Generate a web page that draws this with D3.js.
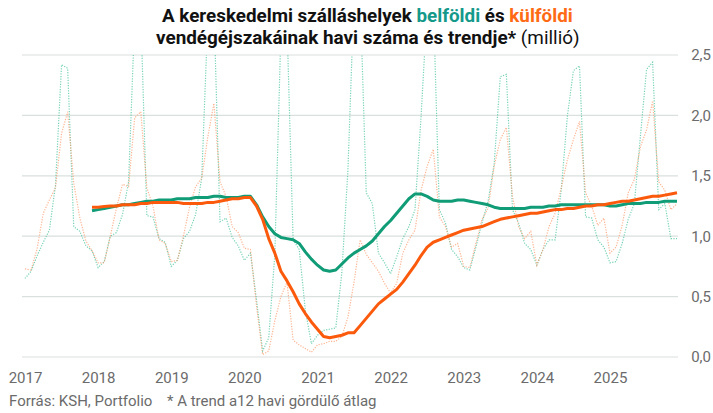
<!DOCTYPE html>
<html><head><meta charset="utf-8">
<script src="https://cdn.jsdelivr.net/npm/d3@7"></script>
<style>
body{margin:0;background:#fff;}
svg{display:block;font-family:Roboto,"Noto Sans",sans-serif;}
</style>
</head><body>
<svg id="chart" width="713" height="413"></svg>
<script>
// ---- data (million guest nights), monthly from Jan 2017 ----
const yearLabels = ["2017","2018","2019","2020","2021","2022","2023","2024","2025"];
const domestic = [
 0.65,0.71,0.84,0.95,1.05,1.42,2.42,2.39,1.08,1.04,0.92,0.88,
 0.74,0.79,1.00,1.03,1.18,1.45,2.80,2.85,1.17,1.16,0.98,0.95,
 0.75,0.80,0.98,1.04,1.18,1.48,2.80,2.90,1.12,1.15,0.99,0.92,
 0.80,0.86,0.47,0.05,0.16,0.85,2.70,2.75,0.97,0.89,0.39,0.11,
 0.18,0.22,0.23,0.24,0.70,1.55,3.00,3.00,1.36,1.27,0.86,0.78,
 0.69,0.83,0.98,1.08,1.22,1.99,2.90,2.95,1.22,1.11,0.89,0.83,
 0.74,0.72,0.91,1.11,1.29,1.60,2.32,2.34,1.22,1.11,0.94,0.89,
 0.76,0.89,0.97,0.97,1.38,1.99,2.37,2.41,1.16,1.15,0.97,0.91,
 0.78,0.79,0.94,1.14,1.27,1.83,2.38,2.44,1.22,1.27,0.98,0.98];
const foreign = [
 0.73,0.72,0.90,1.19,1.30,1.40,1.85,2.03,1.44,1.15,0.96,0.88,
 0.78,0.78,1.00,1.23,1.43,1.41,1.98,2.03,1.40,1.25,0.97,0.94,
 0.79,0.80,1.00,1.24,1.41,1.48,1.82,2.10,1.45,1.33,1.08,1.03,
 0.90,0.89,0.42,0.02,0.05,0.30,0.50,0.62,0.14,0.10,0.07,0.04,
 0.10,0.11,0.13,0.13,0.17,0.33,0.62,0.97,0.85,0.78,0.71,0.61,
 0.53,0.61,0.86,0.97,1.05,1.38,1.58,1.72,1.16,1.08,0.91,0.94,
 0.75,0.74,0.94,1.14,1.23,1.58,1.80,1.90,1.33,1.08,0.98,1.04,
 0.76,0.89,1.08,1.19,1.40,1.63,1.80,1.95,1.36,1.25,1.09,1.15,
 0.86,0.91,1.09,1.36,1.47,1.74,1.88,2.12,1.45,1.38,1.22,1.27];
// 12-month rolling average (trend); starts Dec 2017
const domesticTrend = [null,null,null,null,null,null,null,null,null,null,null,
 1.21,1.22,1.23,1.24,1.25,1.26,1.26,
 1.27,1.28,1.29,1.29,1.30,1.30,1.30,1.31,1.31,1.31,1.32,1.32,1.32,1.33,1.33,1.32,1.32,1.32,
 1.33,1.33,1.26,1.16,1.08,1.02,0.99,0.98,0.97,0.94,0.87,0.81,0.76,0.72,0.71,0.72,0.77,0.82,
 0.86,0.89,0.92,0.96,1.02,1.08,1.13,1.19,1.25,1.31,1.35,1.35,1.33,1.30,1.29,1.29,1.29,1.30,
 1.30,1.29,1.28,1.27,1.26,1.24,1.23,1.23,1.23,1.23,1.23,1.24,1.24,1.24,1.25,1.25,1.26,
 1.26,1.26,1.26,1.26,1.26,1.26,1.26,1.25,1.25,1.26,1.27,1.27,1.27,1.28,1.28,1.28,1.29,1.29,1.29];
const foreignTrend = [null,null,null,null,null,null,null,null,null,null,null,
 1.24,1.24,1.245,1.25,1.25,1.26,1.26,
 1.26,1.27,1.27,1.28,1.28,1.28,1.28,1.28,1.27,1.27,1.27,1.27,1.28,1.28,1.29,1.30,1.31,1.31,
 1.32,1.32,1.25,1.14,0.98,0.86,0.71,0.63,0.54,0.44,0.36,0.29,0.23,0.17,0.16,0.17,0.18,0.20,
 0.20,0.26,0.32,0.38,0.44,0.48,0.52,0.56,0.62,0.69,0.76,0.84,0.91,0.95,0.97,0.99,1.01,1.03,
 1.05,1.06,1.07,1.08,1.10,1.12,1.14,1.15,1.16,1.17,1.18,1.19,1.19,1.20,1.21,1.22,1.22,
 1.23,1.23,1.24,1.25,1.25,1.26,1.26,1.27,1.28,1.29,1.29,1.30,1.31,1.32,1.33,1.33,1.34,1.35,1.36];
const yTicks = [0, 0.5, 1, 1.5, 2, 2.5];

// ---- drawing ----
const svg = d3.select("#chart");
const x = d3.scaleLinear().domain([0, domestic.length - 1]).range([25, 677]);
const y = d3.scaleLinear().domain([0, 2.5]).range([357, 55]);
const fmt = d3.formatLocale({decimal: ",", thousands: " ", grouping: [3], currency: ["", ""]}).format(".1f");

const GREEN = "#0f9c76", ORANGE = "#fb5a0c";

// gridlines
svg.append("g").selectAll("line").data(yTicks).join("line")
  .attr("x1", 22).attr("x2", 678)
  .attr("y1", d => y(d)).attr("y2", d => y(d))
  .attr("stroke", "#d9e0dd").attr("stroke-width", 1.2);

// y axis (right)
const yAxis = svg.append("g").attr("transform", "translate(711,0)")
  .call(d3.axisRight(y).tickValues(yTicks).tickSize(0).tickPadding(0).tickFormat(fmt));
yAxis.select(".domain").remove();
yAxis.selectAll("text").attr("text-anchor", "end").attr("x", 0)
  .attr("fill", "#6b6b6b").style("font-size", "15px").style("font-family", "Roboto");

// x axis
const xAxis = svg.append("g").attr("transform", "translate(0,357)")
  .call(d3.axisBottom(x).tickValues(yearLabels.map((_, k) => k * 12)).tickSize(0).tickPadding(15)
    .tickFormat((d, k) => yearLabels[k]));
xAxis.select(".domain").remove();
xAxis.selectAll("text").attr("fill", "#6b6b6b").style("font-size", "15px").style("font-family", "Roboto");

// clip to plot area
svg.append("clipPath").attr("id", "plot").append("rect")
  .attr("x", 0).attr("y", y(2.5)).attr("width", 713).attr("height", y(0) - y(2.5) + 2);

const line = d3.line().defined(d => d != null).x((d, i) => x(i)).y(d => y(d));
const plot = svg.append("g").attr("clip-path", "url(#plot)");

plot.append("path").datum(domestic).attr("d", line)
  .attr("fill", "none").attr("stroke", "#3cbf98").attr("stroke-opacity", 0.7)
  .attr("stroke-width", 1.2).attr("stroke-dasharray", "1.2,1.4");
plot.append("path").datum(foreign).attr("d", line)
  .attr("fill", "none").attr("stroke", "#ff9463").attr("stroke-opacity", 0.7)
  .attr("stroke-width", 1.2).attr("stroke-dasharray", "1.2,1.4");

plot.append("path").datum(domesticTrend).attr("d", line)
  .attr("fill", "none").attr("stroke", GREEN).attr("stroke-width", 3).attr("stroke-linejoin", "round");
plot.append("path").datum(foreignTrend).attr("d", line)
  .attr("fill", "none").attr("stroke", ORANGE).attr("stroke-width", 3).attr("stroke-linejoin", "round");

// title
function fitText(sel, x0, x1) {
  const w = sel.node().getComputedTextLength();
  const s = (x1 - x0) / w;
  sel.attr("transform", `translate(${x0},0) scale(${s},1)`).attr("x", 0);
}
const t1 = svg.append("text").attr("y", 22).style("font-size", "18px").style("font-weight", "700").attr("fill", "#111");
t1.append("tspan").text("A kereskedelmi szálláshelyek ");
t1.append("tspan").attr("fill", "#14998a").text("belföldi");
t1.append("tspan").text(" és ");
t1.append("tspan").attr("fill", "#ff6a14").text("külföldi");
fitText(t1, 162, 573);
const t2 = svg.append("text").attr("y", 44).style("font-size", "18px").attr("fill", "#111");
t2.append("tspan").style("font-weight", "700").text("vendégéjszakáinak havi száma és trendje*");
t2.append("tspan").style("font-weight", "400").text(" (millió)");
fitText(t2, 156, 580);

// footer
svg.append("text").attr("x", 9).attr("y", 406).attr("fill", "#6b6b6b").style("font-size", "15px")
  .text("Forrás: KSH, Portfolio");
svg.append("text").attr("x", 167).attr("y", 406).attr("fill", "#6b6b6b").style("font-size", "15px")
  .text("* A trend a12 havi gördülő átlag");
</script>
</body></html>
